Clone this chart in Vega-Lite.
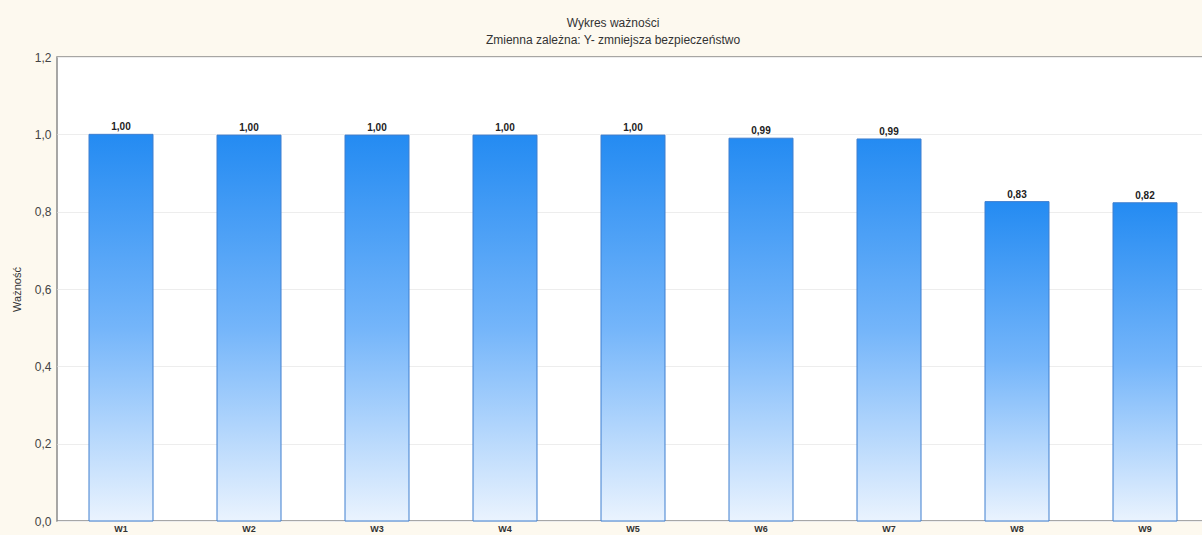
{
  "$schema": "https://vega.github.io/schema/vega-lite/v6.json",
  "width": 1152,
  "height": 464,
  "autosize": {"type": "none"},
  "padding": {"left": 57, "top": 57, "right": 0, "bottom": 14},
  "background": "#FDF9EF",
  "title": {
    "text": "Wykres ważności",
    "subtitle": "Zmienna zależna: Y- zmniejsza bezpieczeństwo",
    "font": "Liberation Sans",
    "subtitleFont": "Liberation Sans",
    "fontSize": 12,
    "subtitleFontSize": 12,
    "fontWeight": "normal",
    "color": "#333333",
    "subtitleColor": "#333333",
    "anchor": "middle",
    "dx": -20,
    "offset": 4,
    "subtitlePadding": 5
  },
  "data": {
    "values": [
      {"zmienna": "W1", "waznosc": 1.0},
      {"zmienna": "W2", "waznosc": 0.998},
      {"zmienna": "W3", "waznosc": 0.998},
      {"zmienna": "W4", "waznosc": 0.998},
      {"zmienna": "W5", "waznosc": 0.998},
      {"zmienna": "W6", "waznosc": 0.99},
      {"zmienna": "W7", "waznosc": 0.988},
      {"zmienna": "W8", "waznosc": 0.826},
      {"zmienna": "W9", "waznosc": 0.823}
    ]
  },
  "encoding": {
    "x": {
      "field": "zmienna",
      "type": "nominal",
      "sort": null,
      "title": null,
      "scale": {"paddingInner": 0.5, "paddingOuter": 0.25},
      "axis": {
        "labelAngle": 0,
        "labelFont": "Liberation Sans",
        "labelFontSize": 9,
        "labelFontWeight": "bold",
        "labelColor": "#333333",
        "labelPadding": 3,
        "domain": false,
        "ticks": false
      }
    },
    "y": {
      "field": "waznosc",
      "type": "quantitative",
      "title": "Ważność",
      "scale": {"domain": [0, 1.2], "nice": false},
      "axis": {
        "values": [0, 0.2, 0.4, 0.6, 0.8, 1.0, 1.2],
        "format": ".1f",
        "labelFont": "Liberation Sans",
        "labelFontSize": 12,
        "labelColor": "#444444",
        "labelPadding": 6,
        "domain": false,
        "ticks": false,
        "gridColor": "#EDEDED",
        "titleFont": "Liberation Sans",
        "titleFontSize": 11,
        "titleFontWeight": "normal",
        "titleColor": "#333333",
        "titlePadding": 12
      }
    }
  },
  "layer": [
    {
      "mark": {
        "type": "bar",
        "stroke": "#3F7FCF",
        "strokeWidth": 1,
        "fill": {
          "gradient": "linear",
          "x1": 0, "y1": 0, "x2": 0, "y2": 1,
          "stops": [
            {"offset": 0, "color": "#248BF2"},
            {"offset": 0.5, "color": "#74B5FA"},
            {"offset": 1, "color": "#EAF3FE"}
          ]
        }
      }
    },
    {
      "mark": {
        "type": "text",
        "baseline": "bottom",
        "dy": -2,
        "font": "Liberation Sans",
        "fontSize": 10,
        "fontWeight": "bold",
        "color": "#222222"
      },
      "encoding": {
        "text": {"field": "waznosc", "type": "quantitative", "format": ".2f"}
      }
    }
  ],
  "config": {
    "locale": {
      "number": {
        "decimal": ",",
        "thousands": " ",
        "grouping": [3],
        "currency": ["", " zł"]
      }
    },
    "view": {"stroke": "#8A8A8A", "strokeWidth": 1.5, "fill": "#FFFFFF"}
  }
}
